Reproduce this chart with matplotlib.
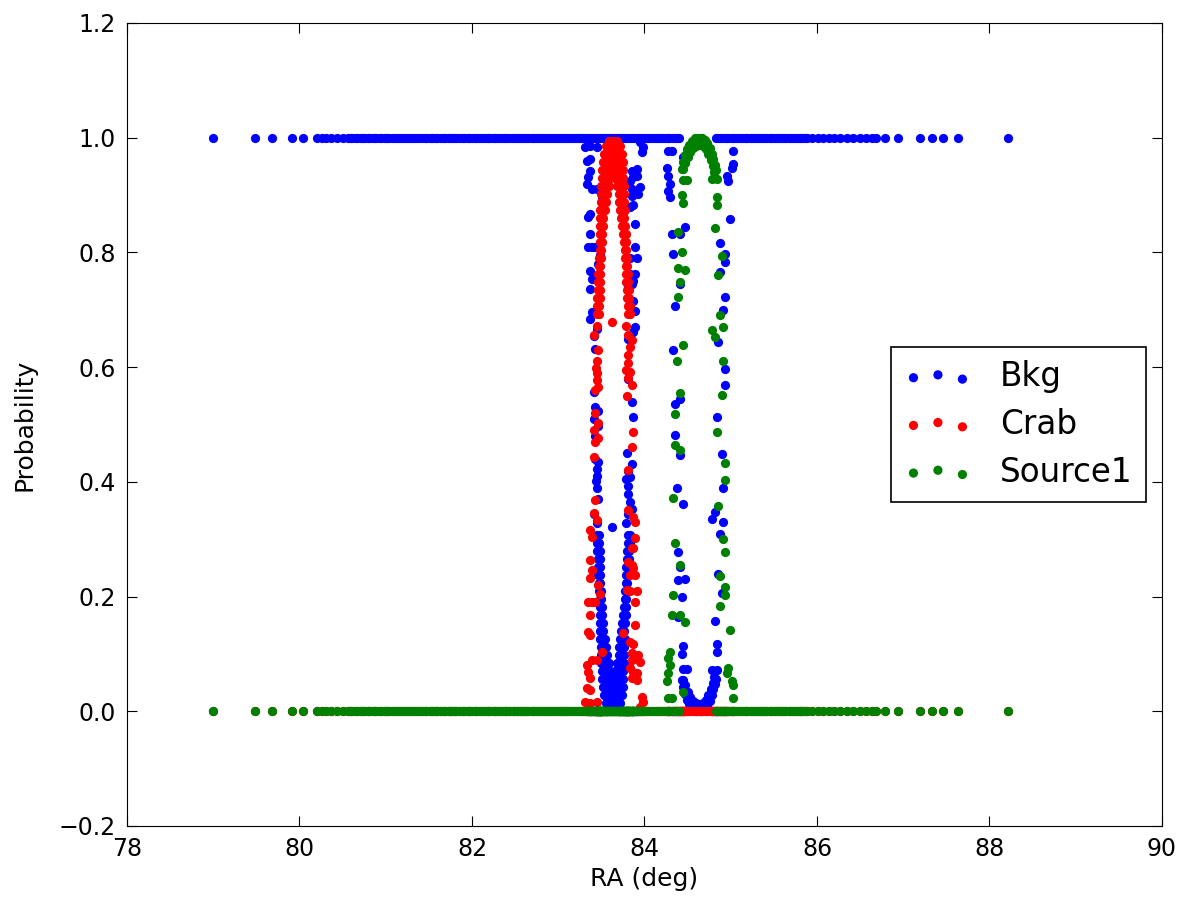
import numpy as np
import matplotlib
matplotlib.use("Agg")
import matplotlib.pyplot as plt

# events that are pure background (P_bkg = 1, P_crab = P_src = 0)
tail_ra = [
    79.0, 79.48, 79.68, 79.91, 80.04, 80.2, 80.26, 80.31, 80.37, 80.44, 80.5,
    80.56, 80.6, 80.65, 80.7, 80.74, 80.79, 80.84, 80.88, 80.93, 80.98, 81.02,
    81.07, 81.12, 81.17, 81.21, 81.26, 81.31, 81.35, 81.4, 81.45, 81.5, 81.54,
    81.58, 81.63, 81.67, 81.72, 81.76, 81.8, 81.85, 81.89, 81.94, 81.98,
    82.03, 82.07, 82.12, 82.16, 82.2, 82.25, 82.29, 82.34, 82.38, 82.42, 82.47,
    82.51, 82.56, 82.6, 82.64, 82.69, 82.73, 82.78, 82.82, 82.86, 82.91, 82.95,
    83.0, 83.04, 83.08, 83.13, 83.17, 83.22, 83.26, 83.3, 83.35, 83.39, 83.44,
    83.48, 83.52, 83.57, 83.61, 83.66, 83.7, 83.74, 83.79, 83.83, 83.88, 83.92,
    83.96, 84.01, 84.05, 84.1, 84.14, 84.18, 84.23, 84.27, 84.32, 84.36, 84.4,
    84.83, 84.88, 84.92, 84.96, 85.01, 85.05, 85.1, 85.14, 85.18, 85.23, 85.27,
    85.32, 85.36, 85.4, 85.45, 85.49, 85.54, 85.58, 85.62, 85.67, 85.71, 85.76,
    85.8, 85.84, 85.88, 85.94, 86.01, 86.07, 86.14, 86.2, 86.27, 86.35, 86.42,
    86.5, 86.57, 86.64, 86.69, 86.79, 86.94, 87.19, 87.33, 87.46, 87.64, 88.21,
]
# more background events in the crowded stretch
tail_ra_dense = [
    80.58, 80.62, 80.67, 80.72, 80.76, 80.81, 80.86, 80.9, 80.95, 81.0, 81.04,
    81.09, 81.14, 81.19, 81.23, 81.28, 81.33, 81.37, 81.42, 81.47, 81.52, 81.56,
    81.6, 81.65, 81.69, 81.74, 81.78, 81.82, 81.87, 81.91, 81.96, 82.0, 82.05,
    82.09, 82.14, 82.18, 82.22, 82.27, 82.31, 82.36, 82.4, 82.44, 82.49, 82.53,
    82.58, 82.62, 82.66, 82.71, 82.75, 82.8, 82.84, 82.88, 82.93, 82.97, 83.02,
    83.06, 83.1, 83.15, 83.19, 83.24, 83.28, 83.32, 83.37, 83.41, 83.46, 83.5,
    83.54, 83.59, 83.63, 83.68, 83.72, 83.76, 83.81, 83.85, 83.9, 83.94, 83.98,
    84.03, 84.07, 84.12, 84.16, 84.2, 84.25, 84.29, 84.34, 84.38, 84.85, 84.9,
    84.94, 84.98, 85.03, 85.07, 85.12, 85.16, 85.2, 85.25, 85.29, 85.34, 85.38,
    85.42, 85.47, 85.51, 85.56, 85.6, 85.64, 85.69, 85.73, 85.78, 85.82, 85.86,
]

# events near the Crab: (RA, P_crab); P_bkg = 1 - P_crab
crab_events = [
    (83.59, 0.995), (83.62, 0.995), (83.65, 0.995), (83.68, 0.995),
    (83.55, 0.985), (83.58, 0.985), (83.61, 0.985), (83.64, 0.985), (83.67, 0.985), (83.70, 0.985), (83.72, 0.985),
    (83.53, 0.972), (83.56, 0.972), (83.59, 0.972), (83.62, 0.972), (83.65, 0.972), (83.68, 0.972), (83.71, 0.972), (83.74, 0.972),
    (83.52, 0.958), (83.55, 0.958), (83.58, 0.958), (83.61, 0.958), (83.64, 0.958), (83.67, 0.958), (83.70, 0.958), (83.73, 0.958), (83.75, 0.958),
    (83.51, 0.944), (83.54, 0.944), (83.57, 0.944), (83.60, 0.944), (83.63, 0.944), (83.66, 0.944), (83.69, 0.944), (83.72, 0.944), (83.75, 0.944),
    (83.51, 0.930), (83.54, 0.930), (83.57, 0.930), (83.60, 0.930), (83.66, 0.930), (83.69, 0.930), (83.72, 0.930), (83.75, 0.930),
    (83.50, 0.916), (83.53, 0.916), (83.56, 0.916), (83.59, 0.916), (83.68, 0.916), (83.71, 0.916), (83.73, 0.916), (83.76, 0.916),
    (83.50, 0.902), (83.53, 0.902), (83.56, 0.902), (83.70, 0.902), (83.73, 0.902), (83.76, 0.902),
    (83.50, 0.888), (83.53, 0.888), (83.55, 0.888), (83.71, 0.888), (83.74, 0.888), (83.76, 0.888),
    (83.49, 0.874), (83.52, 0.874), (83.54, 0.874), (83.72, 0.874), (83.75, 0.874), (83.77, 0.874),
    (83.49, 0.860), (83.52, 0.860), (83.73, 0.860), (83.76, 0.860),
    (83.49, 0.846), (83.52, 0.846), (83.74, 0.846), (83.77, 0.846),
    (83.48, 0.832), (83.51, 0.832), (83.75, 0.832), (83.78, 0.832),
    (83.48, 0.818), (83.51, 0.818), (83.76, 0.818), (83.79, 0.818),
    (83.48, 0.804), (83.50, 0.804), (83.77, 0.804), (83.79, 0.804),
    (83.47, 0.790), (83.50, 0.790), (83.77, 0.790), (83.80, 0.790),
    (83.47, 0.776), (83.49, 0.776), (83.78, 0.776), (83.80, 0.776),
    (83.46, 0.762), (83.49, 0.762), (83.79, 0.762), (83.81, 0.762),
    (83.46, 0.748), (83.48, 0.748), (83.79, 0.748), (83.81, 0.748),
    (83.46, 0.734), (83.48, 0.734), (83.80, 0.734), (83.82, 0.734),
    (83.45, 0.720), (83.48, 0.720), (83.80, 0.720), (83.82, 0.720),
    (83.45, 0.706), (83.47, 0.706), (83.81, 0.706), (83.83, 0.706),
    (83.45, 0.692), (83.47, 0.692), (83.81, 0.692), (83.83, 0.692),
    (83.45, 0.671), (83.41, 0.656), (83.465, 0.63), (83.45, 0.61), (83.44, 0.598),
    (83.45, 0.589), (83.445, 0.578), (83.46, 0.566), (83.43, 0.56), (83.43, 0.52),
    (83.46, 0.502), (83.42, 0.49), (83.46, 0.476), (83.43, 0.47), (83.42, 0.444),
    (83.43, 0.368), (83.41, 0.345), (83.445, 0.333),
    (83.79, 0.671), (83.81, 0.656), (83.85, 0.647), (83.83, 0.635), (83.81, 0.621),
    (83.81, 0.607), (83.79, 0.595), (83.83, 0.592), (83.81, 0.581), (83.85, 0.569),
    (83.80, 0.549), (83.87, 0.487), (83.85, 0.461), (83.81, 0.421), (83.81, 0.351),
    (83.87, 0.339), (83.89, 0.33), (83.62, 0.678),
    (83.368, 0.316), (83.388, 0.304), (83.368, 0.264), (83.388, 0.246), (83.368, 0.232),
    (83.465, 0.22), (83.484, 0.205), (83.349, 0.191), (83.388, 0.191), (83.426, 0.191),
    (83.368, 0.168), (83.349, 0.139), (83.368, 0.133), (83.504, 0.104), (83.388, 0.089),
    (83.446, 0.089), (83.33, 0.081), (83.349, 0.069), (83.368, 0.058), (83.33, 0.04),
    (83.368, 0.037), (83.31, 0.017), (83.368, 0.014), (83.446, 0.017),
    (83.89, 0.302), (83.871, 0.284), (83.852, 0.284), (83.813, 0.261), (83.852, 0.255),
    (83.871, 0.249), (83.832, 0.238), (83.89, 0.238), (83.794, 0.211), (83.832, 0.209),
    (83.91, 0.209), (83.89, 0.191), (83.89, 0.15), (83.755, 0.136), (83.832, 0.121),
    (83.871, 0.118), (83.852, 0.101), (83.929, 0.098), (83.852, 0.089), (83.948, 0.086),
    (83.832, 0.075), (83.871, 0.069), (83.91, 0.066), (83.852, 0.058), (83.91, 0.055),
    (83.968, 0.025), (83.987, 0.017), (83.948, 0.008),
]

# events near Source1: (RA, P_src); P_bkg = 1 - P_src
src_events = [
    (84.43, 0.945), (84.45, 0.958), (84.47, 0.970), (84.49, 0.980), (84.52, 0.988),
    (84.55, 0.995), (84.58, 0.999), (84.61, 1.0), (84.64, 1.0), (84.67, 0.999),
    (84.70, 0.996), (84.73, 0.99), (84.76, 0.982), (84.78, 0.972), (84.80, 0.962),
    (84.82, 0.952), (84.83, 0.944),
    (84.45, 0.945), (84.47, 0.955), (84.50, 0.966), (84.53, 0.975), (84.56, 0.982),
    (84.60, 0.986), (84.64, 0.987), (84.68, 0.985), (84.71, 0.98), (84.74, 0.972),
    (84.77, 0.961), (84.79, 0.95), (84.81, 0.94),
    (84.451, 0.926), (84.489, 0.926), (84.431, 0.90), (84.451, 0.886), (84.78, 0.928),
    (84.838, 0.928), (84.838, 0.897), (84.838, 0.883), (84.393, 0.836), (84.818, 0.843),
    (84.431, 0.801), (84.393, 0.772), (84.47, 0.769), (84.412, 0.749), (84.896, 0.794),
    (84.857, 0.761), (84.393, 0.723), (84.876, 0.691),
    (84.78, 0.665), (84.915, 0.67), (84.818, 0.653), (84.451, 0.639), (84.373, 0.611),
    (84.915, 0.611), (84.412, 0.554), (84.896, 0.551), (84.354, 0.519), (84.838, 0.487),
    (84.354, 0.464), (84.412, 0.455), (84.934, 0.432), (84.934, 0.403), (84.335, 0.371),
    (84.857, 0.357),
    (84.354, 0.293), (84.915, 0.301), (84.934, 0.278), (84.412, 0.255), (84.876, 0.235),
    (84.934, 0.217), (84.335, 0.203), (84.934, 0.203), (84.876, 0.183), (84.315, 0.168),
    (84.412, 0.168), (84.47, 0.156), (84.992, 0.142), (84.296, 0.104), (84.277, 0.093),
    (84.296, 0.081), (84.277, 0.066), (84.257, 0.052), (84.973, 0.075), (84.954, 0.066),
    (85.012, 0.052), (85.031, 0.046), (84.451, 0.034), (84.277, 0.023), (84.315, 0.023),
    (85.031, 0.023),
]

tail = np.array(tail_ra + tail_ra_dense)
crab_ra, crab_p = np.array(crab_events).T
src_ra, src_p = np.array(src_events).T
zero_t, zero_c, zero_s = np.zeros(len(tail)), np.zeros(len(crab_ra)), np.zeros(len(src_ra))

ra = np.concatenate([tail, crab_ra, src_ra])
p_bkg = np.concatenate([zero_t + 1.0, 1.0 - crab_p, 1.0 - src_p])
p_crab = np.concatenate([zero_t, crab_p, zero_s])
p_src = np.concatenate([zero_t, zero_c, src_p])

fig = plt.figure(figsize=(11.87, 9.15), dpi=100)
ax = fig.add_axes([0.107, 0.0973, 0.8719, 0.8776])

ax.scatter(ra, p_bkg, s=44, color="blue", linewidths=0, label="Bkg")
ax.scatter(ra, p_crab, s=44, color="red", linewidths=0, label="Crab")
ax.scatter(ra, p_src, s=44, color="green", linewidths=0, label="Source1")

ax.set_xlim(78, 90)
ax.set_ylim(-0.2, 1.2)
ax.set_xticks(np.arange(78, 91, 2))
ax.set_yticks(np.arange(-0.2, 1.21, 0.2))
ax.tick_params(direction="in", top=True, right=True, length=7, labelsize=17, pad=8)
ax.set_xlabel("RA (deg)", fontsize=18, labelpad=4)
ax.set_ylabel("Probability", fontsize=18, labelpad=16)

leg = ax.legend(loc="center right", scatterpoints=3, fontsize=23.5, fancybox=False,
                framealpha=1, edgecolor="black", borderaxespad=0.5, labelspacing=0.45,
                handlelength=2.1, handletextpad=0.85)
leg.get_frame().set_linewidth(1.2)

fig.savefig("out.png", dpi=100)
